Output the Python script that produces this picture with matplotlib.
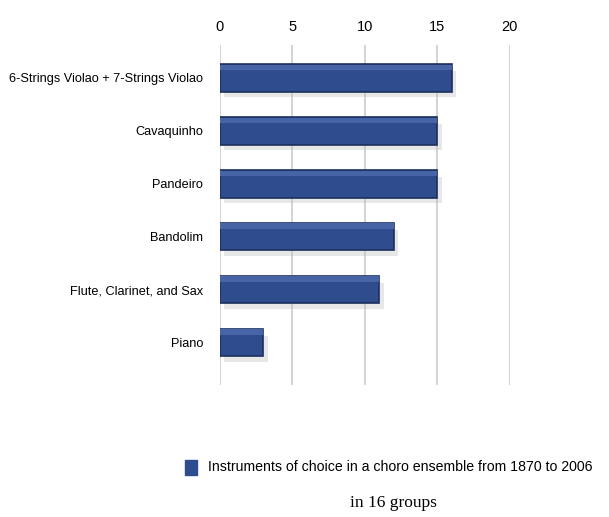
import matplotlib.pyplot as plt
import numpy as np

categories = ["6-Strings Violao + 7-Strings Violao", "Cavaquinho", "Pandeiro",
              "Bandolim", "Flute, Clarinet, and Sax", "Piano"]
values = [16, 15, 15, 12, 11, 3]
ticks = [0, 5, 10, 15, 20]
legend_label = "Instruments of choice in a choro ensemble from 1870 to 2006"
subtitle = "in 16 groups"

bar_color = "#2f4c8c"
edge_color = "#1c2f5e"
sans = ["Liberation Sans", "DejaVu Sans"]

fig = plt.figure(figsize=(6.09, 5.17), dpi=100)
ax = fig.add_axes([0.361, 1 - 385 / 517, 0.476, 340 / 517])

y = np.arange(len(categories))
# soft shadow behind the bars
ax.barh(y + 0.12, values, height=0.5, left=0.3, color="#bbbbbb", alpha=0.35, zorder=1)
ax.barh(y, values, height=0.52, color=bar_color, edgecolor=edge_color, linewidth=1.2, zorder=3)
# light strip on top of each bar for the 3D look
ax.barh(y - 0.2, values, height=0.1, color="#4664a6", linewidth=0, zorder=4)

ax.set_xlim(0, 20)
ax.set_ylim(5.8, -0.62)
ax.set_xticks(ticks)
ax.xaxis.tick_top()
ax.tick_params(axis="x", length=0, pad=8)
ax.set_yticks(y)
ax.set_yticklabels(categories)
ax.tick_params(axis="y", length=0, pad=12)
for lab in ax.get_xticklabels():
    lab.set_family(sans)
    lab.set_fontsize(10.5)
for lab in ax.get_yticklabels():
    lab.set_family(sans)
    lab.set_fontsize(9.2)
ax.grid(axis="x", color="#cccccc", linewidth=1.2, zorder=0)
ax.set_axisbelow(True)
for s in ax.spines.values():
    s.set_visible(False)

# legend
fig.patches.append(plt.Rectangle((185 / 609, 1 - 475 / 517), 12 / 609, 15 / 517,
                                 transform=fig.transFigure, color=bar_color))
fig.text(208 / 609, 1 - 467 / 517, legend_label, fontsize=10.2, va="center", ha="left",
         family=sans)
fig.text(393 / 609, 1 - 503 / 517, subtitle, fontsize=12.5, va="center", ha="center",
         family="Liberation Serif")

fig.savefig("out.png", dpi=100)
